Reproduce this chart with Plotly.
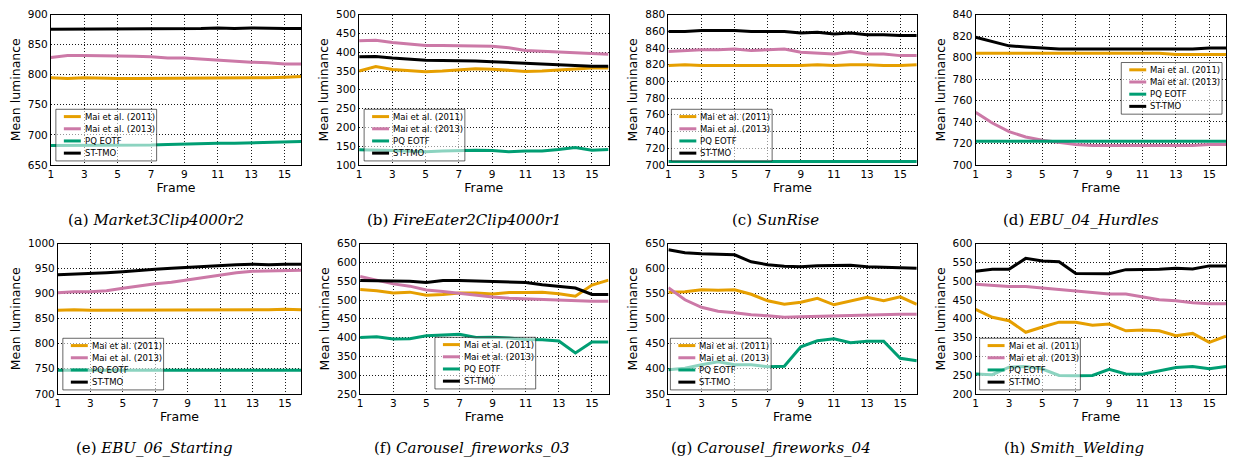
import plotly.graph_objects as go

W, H = 1234, 469

frames = list(range(1, 17))
x_ticks = [1, 3, 5, 7, 9, 11, 13, 15]
series_names = ["Mai et al. (2011)", "Mai et al. (2013)", "PQ EOTF", "ST-TMO"]
series_colors = ["#E69F00", "#CC79A7", "#009E73", "#000000"]

letters = ["a", "b", "c", "d", "e", "f", "g", "h"]
titles = ["Market3Clip4000r2", "FireEater2Clip4000r1", "SunRise", "EBU_04_Hurdles",
          "EBU_06_Starting", "Carousel_fireworks_03", "Carousel_fireworks_04", "Smith_Welding"]
y_ranges = [[650, 900], [100, 500], [700, 880], [700, 840],
            [700, 1000], [250, 650], [350, 650], [200, 600]]
y_dticks = [50, 50, 20, 20, 50, 50, 50, 50]

# (a) Market3Clip4000r2
a_mai2011 = [795, 794, 795, 794, 794, 794, 794, 794, 794, 794, 794, 794, 794, 795, 796, 797]
a_mai2013 = [829, 832, 832, 832, 831, 831, 830, 828, 828, 826, 825, 823, 821, 820, 818, 818]
a_pq = [682, 682, 682, 682, 682, 682, 683, 684, 685, 686, 686, 686, 687, 688, 688, 689]
a_st = [876, 876, 876, 876, 877, 877, 877, 877, 877, 877, 878, 877, 878, 877, 877, 877]
# (b) FireEater2Clip4000r1
b_mai2011 = [350, 362, 354, 350, 348, 350, 353, 356, 355, 353, 349, 350, 353, 357, 358, 358]
b_mai2013 = [431, 432, 426, 423, 418, 418, 418, 417, 416, 412, 405, 403, 401, 398, 396, 395]
b_pq = [140, 140, 138, 136, 135, 137, 138, 139, 138, 135, 137, 137, 141, 146, 139, 141]
b_st = [388, 389, 385, 382, 379, 378, 378, 377, 375, 373, 370, 368, 367, 365, 363, 363]
# (c) SunRise
c_mai2011 = [819, 820, 819, 819, 819, 819, 819, 819, 819, 820, 819, 820, 820, 819, 819, 820]
c_mai2013 = [836, 837, 838, 838, 839, 837, 838, 839, 835, 834, 833, 836, 833, 833, 831, 831]
c_pq = [704, 704, 704, 704, 704, 704, 704, 704, 704, 704, 704, 704, 704, 704, 704, 704]
c_st = [860, 860, 861, 861, 861, 860, 860, 860, 858, 859, 857, 858, 856, 856, 855, 855]
# (d) EBU_04_Hurdles
d_mai2011 = [804, 804, 804, 804, 804, 804, 804, 804, 804, 804, 804, 804, 803, 803, 803, 803]
d_mai2013 = [749, 739, 731, 726, 723, 721, 719, 718, 718, 718, 718, 718, 718, 718, 719, 719]
d_pq = [722, 722, 722, 722, 722, 722, 722, 722, 722, 722, 722, 722, 722, 722, 722, 722]
d_st = [819, 815, 811, 810, 809, 808, 808, 808, 808, 808, 808, 808, 808, 808, 809, 809]
# (e) EBU_06_Starting
e_mai2011 = [867, 868, 867, 867, 867, 867, 868, 868, 868, 868, 867, 867, 868, 868, 869, 868]
e_mai2013 = [902, 904, 904, 906, 911, 916, 920, 923, 928, 933, 938, 942, 945, 946, 947, 947]
e_pq = [747, 747, 747, 747, 747, 747, 747, 747, 747, 747, 747, 747, 747, 747, 747, 747]
e_st = [938, 939, 940, 942, 944, 947, 949, 951, 953, 955, 957, 958, 959, 958, 959, 959]
# (f) Carousel_fireworks_03
f_mai2011 = [528, 525, 519, 521, 513, 515, 519, 519, 516, 520, 520, 521, 517, 510, 540, 553]
f_mai2013 = [563, 552, 543, 537, 527, 523, 518, 513, 508, 505, 503, 502, 501, 499, 497, 497]
f_pq = [400, 402, 396, 397, 405, 408, 409, 400, 401, 399, 395, 394, 391, 359, 388, 388]
f_st = [552, 552, 552, 550, 547, 552, 552, 551, 549, 548, 547, 541, 537, 532, 515, 515]
# (g) Carousel_fireworks_04
g_mai2011 = [553, 554, 558, 557, 558, 549, 536, 529, 533, 541, 528, 535, 543, 536, 544, 529]
g_mai2013 = [562, 538, 523, 515, 512, 508, 506, 503, 504, 505, 506, 507, 508, 508, 509, 509]
g_pq = [398, 401, 408, 414, 408, 408, 404, 405, 444, 456, 460, 452, 455, 455, 421, 416]
g_st = [638, 632, 630, 629, 628, 614, 608, 605, 604, 606, 607, 607, 604, 603, 601, 601]
# (h) Smith_Welding
h_mai2011 = [425, 404, 395, 364, 378, 391, 391, 383, 386, 368, 370, 368, 355, 361, 337, 354]
h_mai2013 = [492, 488, 486, 486, 482, 479, 473, 470, 466, 466, 458, 451, 448, 443, 440, 440]
h_pq = [253, 251, 271, 273, 266, 249, 248, 249, 265, 253, 252, 262, 270, 273, 267, 273]
h_st = [527, 532, 532, 561, 554, 552, 521, 521, 520, 531, 531, 532, 535, 533, 541, 541]

panel_series = [
    [a_mai2011, a_mai2013, a_pq, a_st],
    [b_mai2011, b_mai2013, b_pq, b_st],
    [c_mai2011, c_mai2013, c_pq, c_st],
    [d_mai2011, d_mai2013, d_pq, d_st],
    [e_mai2011, e_mai2013, e_pq, e_st],
    [f_mai2011, f_mai2013, f_pq, f_st],
    [g_mai2011, g_mai2013, g_pq, g_st],
    [h_mai2011, h_mai2013, h_pq, h_st],
]

# ---- layout geometry (pixels) ----
plot_x = [(48, 299), (357, 607), (667, 916), (975, 1226),
          (55, 299), (358, 607), (667, 916), (975, 1226)]
plot_y = [(9, 163)] * 4 + [(244, 398)] * 4
legend_box = [(53, 106), (362, 106), (670, 106), (1121, 58),
              (60, 341), (433, 340), (669, 341), (979, 341)]
caption_x = [153, 462, 774, 1081, 152, 470, 770, 1074]
caption_y = [220] * 4 + [454] * 4

def px(x):
    return x / W

def py(y):
    return 1 - y / H

fig = go.Figure()
layout = dict(
    width=W, height=H, margin=dict(l=0, r=0, t=0, b=0),
    paper_bgcolor="white", plot_bgcolor="white", showlegend=False,
    font=dict(family="DejaVu Sans", color="black"),
)
shapes = []
annotations = []

for i in range(8):
    n = i + 1
    xa = "x" if n == 1 else f"x{n}"
    ya = "y" if n == 1 else f"y{n}"
    for s in range(4):
        fig.add_trace(go.Scatter(
            x=frames, y=panel_series[i][s], mode="lines", name=series_names[s],
            line=dict(color=series_colors[s], width=3),
            xaxis=xa, yaxis=ya, showlegend=False,
        ))
    x0, x1 = plot_x[i]
    y0, y1 = plot_y[i]
    common = dict(showline=True, linecolor="black", linewidth=1, mirror=True,
                  showgrid=True, gridcolor="rgba(0,0,0,0.9)", griddash="1px,2px", gridwidth=1,
                  zeroline=False, ticks="", tickfont=dict(size=10.5, color="black"))
    layout["xaxis" if n == 1 else f"xaxis{n}"] = dict(
        common, domain=[px(x0), px(x1)], anchor=ya, range=[1, 16],
        tickvals=x_ticks, title=dict(text="Frame", font=dict(size=12.5), standoff=2),
    )
    layout["yaxis" if n == 1 else f"yaxis{n}"] = dict(
        common, domain=[py(y1), py(y0)], anchor=xa, range=y_ranges[i],
        dtick=y_dticks[i], tick0=y_ranges[i][0],
        title=dict(text="Mean luminance", font=dict(size=12.5), standoff=4),
    )
    # legend
    lx, ly = legend_box[i]
    shapes.append(dict(type="rect", xref="paper", yref="paper",
                       x0=px(lx), x1=px(lx + 101), y0=py(ly + 53), y1=py(ly),
                       fillcolor="rgba(255,255,255,0.55)",
                       line=dict(color="rgba(0,0,0,0.6)", width=1), layer="above"))
    for s in range(4):
        yy = ly + 7.5 + s * 12.5
        shapes.append(dict(type="line", xref="paper", yref="paper",
                           x0=px(lx + 8), x1=px(lx + 25), y0=py(yy), y1=py(yy),
                           line=dict(color=series_colors[s], width=3), layer="above"))
        annotations.append(dict(xref="paper", yref="paper", x=px(lx + 27), y=py(yy),
                                xanchor="left", yanchor="middle", showarrow=False,
                                text=series_names[s],
                                font=dict(size=8.5, family="DejaVu Sans", color="black")))
    annotations.append(dict(xref="paper", yref="paper", x=px(caption_x[i]), y=py(caption_y[i]),
                            xanchor="center", yanchor="middle", showarrow=False,
                            text=f"({letters[i]}) <i>{titles[i]}</i>",
                            font=dict(size=15, family="DejaVu Serif", color="black")))

layout["shapes"] = shapes
layout["annotations"] = annotations
fig.update_layout(**layout)
fig.write_html("out.html", config={"displayModeBar": False},
               post_script="document.body.style.margin='0';document.body.style.overflow='hidden';")
